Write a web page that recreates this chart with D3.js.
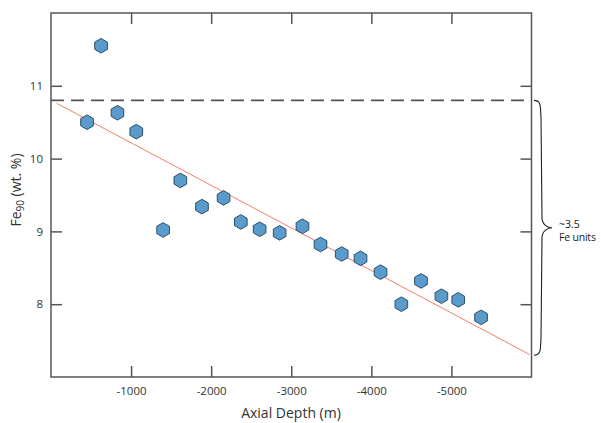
<!DOCTYPE html>
<html><head><meta charset="utf-8">
<script src="https://cdn.jsdelivr.net/npm/d3@7"></script>
<style>body{margin:0;background:#fff}svg{display:block}text{font-family:"Open Sans",sans-serif;fill:#333}</style>
</head><body><svg id="c" width="601" height="423"></svg>
<script>
const depths = [-450, -625, -830, -1065, -1400, -1615, -1885, -2155, -2370, -2605, -2855, -3140, -3365, -3630, -3865, -4115, -4375, -4620, -4875, -5085, -5370];
const feValues = [10.50, 11.55, 10.63, 10.37, 9.02, 9.70, 9.34, 9.46, 9.13, 9.03, 8.98, 9.07, 8.82, 8.69, 8.63, 8.44, 8.00, 8.32, 8.11, 8.06, 7.82];
const xTicks = [-1000, -2000, -3000, -4000, -5000];
const yTicks = [8, 9, 10, 11];
const dashedLevel = 10.8;
const trendDepths = [-70, -5975];
const trendValues = [10.76, 7.31];
const braceRange = [10.8, 7.3];

(function () {
const svg = d3.select("#c");
const L = 51, R = 531.5, T = 13, B = 377;
const x = d3.scaleLinear().domain([0, -6000]).range([L, R]);
const y = d3.scaleLinear().domain([7, 12]).range([B, T]);
const axisCol = "#555";

svg.append("rect").attr("x", L).attr("y", T).attr("width", R - L).attr("height", B - T)
  .attr("fill", "none").attr("stroke", axisCol).attr("stroke-width", 1.5);

const fmt = d => d3.format("d")(d).replace("\u2212", "-");
const gBottom = svg.append("g").attr("transform", `translate(0,${B})`)
  .call(d3.axisBottom(x).tickValues(xTicks).tickSizeInner(-11).tickSizeOuter(0).tickPadding(10).tickFormat(fmt));
const gTop = svg.append("g").attr("transform", `translate(0,${T})`)
  .call(d3.axisTop(x).tickValues(xTicks).tickSizeInner(-11).tickSizeOuter(0).tickFormat(""));
const gLeft = svg.append("g").attr("transform", `translate(${L},0)`)
  .call(d3.axisLeft(y).tickValues(yTicks).tickSizeInner(-11).tickSizeOuter(0).tickPadding(8).tickFormat(d3.format("d")));
const gRight = svg.append("g").attr("transform", `translate(${R},0)`)
  .call(d3.axisRight(y).tickValues(yTicks).tickSizeInner(-11).tickSizeOuter(0).tickFormat(""));
[gBottom, gTop, gLeft, gRight].forEach(g => {
  g.select(".domain").remove();
  g.selectAll(".tick line").attr("stroke", axisCol).attr("stroke-width", 1.5);
  g.selectAll(".tick text").attr("fill", "#333").style("font-size", "11.5px").style("font-family", "'Open Sans',sans-serif");
});

svg.append("line").attr("x1", L).attr("x2", R).attr("y1", y(dashedLevel)).attr("y2", y(dashedLevel))
  .attr("stroke", "#555").attr("stroke-width", 1.6).attr("stroke-dasharray", "13,7");

svg.append("line").attr("x1", x(trendDepths[0])).attr("x2", x(trendDepths[1]))
  .attr("y1", y(trendValues[0])).attr("y2", y(trendValues[1]))
  .attr("stroke", "#f0806a").attr("stroke-width", 1);

const r = 7.3;
const hexPath = d3.range(6).map(i => {
  const a = Math.PI / 180 * (60 * i - 90);
  return [r * Math.cos(a), r * Math.sin(a)];
});
svg.append("g").selectAll("path").data(depths.map((d, i) => [d, feValues[i]])).join("path")
  .attr("d", "M" + hexPath.map(p => p.join(",")).join("L") + "Z")
  .attr("transform", d => `translate(${x(d[0])},${y(d[1])})`)
  .attr("fill", "#5a9bcb").attr("stroke", "#2b4f6a").attr("stroke-width", 1);

const y0 = y(braceRange[0]), y1 = y(braceRange[1]), ym = (y0 + y1) / 2;
const bx = 534, bv = 542, bt = 552;
const bp = `M${bx},${y0} C${bv},${y0} ${bv - 2},${y0 + 8} ${bv - 1},${y0 + 16} L${bv},${ym - 10} C${bv},${ym - 3} ${bt - 4},${ym} ${bt},${ym} C${bt - 4},${ym} ${bv},${ym + 3} ${bv},${ym + 10} L${bv - 1},${y1 - 16} C${bv - 2},${y1 - 8} ${bv},${y1} ${bx},${y1}`;
svg.append("path").attr("d", bp).attr("fill", "none").attr("stroke", "#222").attr("stroke-width", 1.1);
svg.append("text").attr("x", 559).attr("y", ym).style("font-size", "10.5px").style("fill", "#222").text("~3.5");
svg.append("text").attr("x", 559).attr("y", ym + 13).style("font-size", "10.5px").style("fill", "#222").style("letter-spacing", "-0.2px").text("Fe units");

svg.append("text").attr("x", 291).attr("y", 418).attr("text-anchor", "middle")
  .style("font-size", "14px").text("Axial Depth (m)");
const yl = svg.append("text").attr("transform", `translate(21,190) rotate(-90)`)
  .attr("text-anchor", "middle").style("font-size", "14px");
yl.append("tspan").text("Fe");
yl.append("tspan").attr("dy", 3).style("font-size", "10px").text("90");
yl.append("tspan").attr("dy", -3).text(" (wt. %)");
})();
</script></body></html>
